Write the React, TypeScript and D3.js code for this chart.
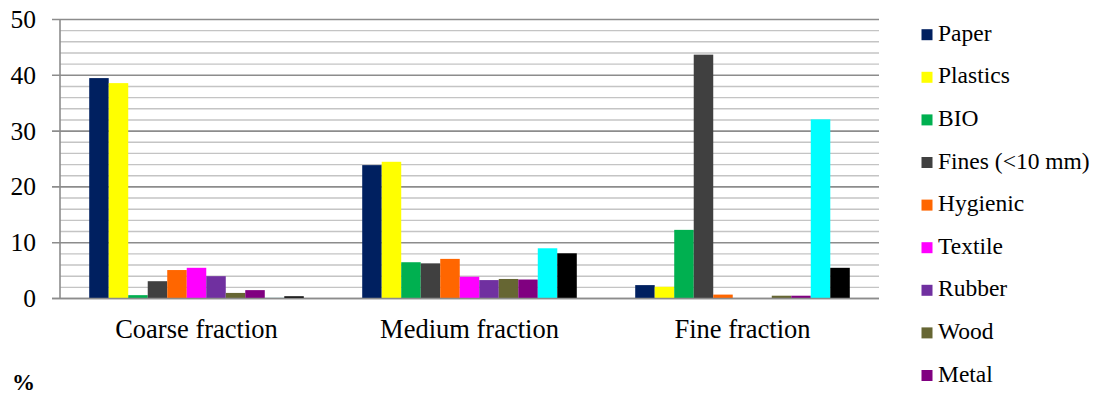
import React, { useEffect, useRef } from "react";
import * as d3 from "d3";

// Waste composition (%) by sieve fraction
const categories = ["Coarse fraction", "Medium fraction", "Fine fraction"];
const seriesNames = [
  "Paper",
  "Plastics",
  "BIO",
  "Fines (<10 mm)",
  "Hygienic",
  "Textile",
  "Rubber",
  "Wood",
  "Metal",
  "Glass",
  "Inert",
];
const seriesColors = [
  "#002060",
  "#FFFF00",
  "#00B050",
  "#404040",
  "#FF6600",
  "#FF00FF",
  "#7030A0",
  "#666633",
  "#800080",
  "#00FFFF",
  "#000000",
];
const coarseValues = [39.5, 38.6, 0.6, 3.1, 5.1, 5.5, 4.0, 1.0, 1.5, 0.1, 0.4];
const mediumValues = [23.9, 24.5, 6.5, 6.3, 7.1, 3.9, 3.3, 3.5, 3.4, 9.0, 8.1];
const fineValues = [2.4, 2.1, 12.3, 43.7, 0.7, 0, 0, 0.5, 0.5, 32.1, 5.5];
const yTicks = [0, 10, 20, 30, 40, 50];
const yMax = 50;

const valuesByCategory = [coarseValues, mediumValues, fineValues];

const W = 1093;
const H = 396;
const FONT = `"Liberation Serif", "Times New Roman", "Tinos", "FreeSerif", "DejaVu Serif", serif`;

export default function App() {
  const svgRef = useRef<SVGSVGElement | null>(null);

  const left = 60;
  const right = 879;
  const top = 19.5;
  const bottom = 298.5;

  const x0 = d3
    .scaleBand<string>()
    .domain(categories)
    .range([left, right])
    .paddingInner(0.214)
    .paddingOuter(0.107);
  const x1 = d3
    .scaleBand<string>()
    .domain(seriesNames)
    .range([0, x0.bandwidth()])
    .padding(0);
  const y = d3.scaleLinear().domain([0, yMax]).range([bottom, top]);

  const gridValues = d3.range(0, yMax + 0.001, 2);

  // legend rows; the list runs past the bottom edge, so only rows that fit are drawn
  const legendRowY = (i: number) => 34.7 + i * 42.6;
  const legendItems = seriesNames
    .map((s, i) => ({ s, i }))
    .filter(({ i }) => legendRowY(i) + 10 < H);

  // apply the serif face to every label once mounted
  useEffect(() => {
    if (!svgRef.current) return;
    d3.select(svgRef.current)
      .selectAll<SVGTextElement, unknown>("text")
      .attr("font-family", "Liberation Serif")
      .style("font-family", FONT);
  }, []);

  return (
    <svg
      ref={svgRef}
      className="waste-chart"
      width={W}
      height={H}
      style={{ position: "absolute", left: 0, top: 0, display: "block", background: "#fff", fontFamily: FONT }}
    >
      <style>{`.waste-chart text { font-family: ${FONT}; }`}</style>

      {/* horizontal gridlines: minor every 2, major every 10 */}
      {gridValues.map((v) => {
        const major = v % 10 === 0;
        return (
          <line
            key={`g${v}`}
            x1={major ? left - 8 : left}
            x2={right}
            y1={y(v)}
            y2={y(v)}
            stroke={major ? "#8c8c8c" : "#c4c4c4"}
            strokeWidth={major ? 1.6 : 1.4}
          />
        );
      })}
      {/* vertical axis */}
      <line x1={left} x2={left} y1={top} y2={bottom} stroke="#8c8c8c" strokeWidth={1.6} />

      {/* bars */}
      {categories.map((cat, ci) => (
        <g key={cat} transform={`translate(${x0(cat)},0)`}>
          {seriesNames.map((s, si) => {
            const v = valuesByCategory[ci][si];
            if (v <= 0) return null;
            return (
              <rect
                key={s}
                x={x1(s)}
                y={y(v)}
                width={x1.bandwidth()}
                height={y(0) - y(v)}
                fill={seriesColors[si]}
              />
            );
          })}
        </g>
      ))}

      {/* baseline drawn over bars */}
      <line x1={left - 8} x2={right} y1={y(0)} y2={y(0)} stroke="#8c8c8c" strokeWidth={1.6} />

      {/* y tick labels */}
      {yTicks.map((t) => (
        <text key={`t${t}`} x={36} y={y(t) + 8.5} textAnchor="end" fontSize={25.5} fill="#000">
          {t}
        </text>
      ))}

      {/* category labels */}
      {categories.map((cat) => (
        <text
          key={`c${cat}`}
          x={(x0(cat) ?? 0) + x0.bandwidth() / 2}
          y={337.5}
          textAnchor="middle"
          fontSize={26.5}
          fill="#000"
        >
          {cat}
        </text>
      ))}

      {/* unit label */}
      <text x={12} y={390} fontSize={23} fontWeight="bold" fill="#000">
        %
      </text>

      {/* legend */}
      {legendItems.map(({ s, i }) => {
        const cy = legendRowY(i);
        return (
          <g key={`l${s}`}>
            <rect x={921.5} y={cy - 5.5} width={11} height={11} fill={seriesColors[i]} />
            <text x={938} y={cy + 6} fontSize={23.5} fill="#000">
              {s}
            </text>
          </g>
        );
      })}
    </svg>
  );
}
